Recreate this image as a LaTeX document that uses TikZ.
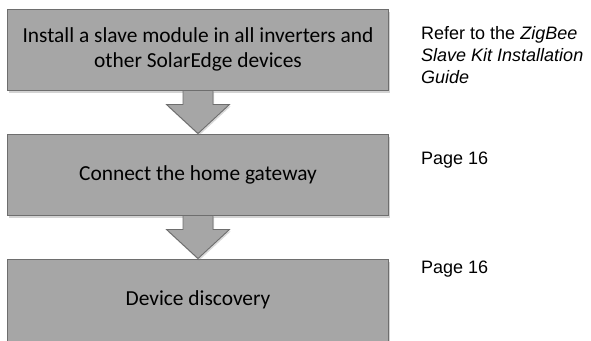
\documentclass[tikz,border=0pt]{standalone}
\usepackage{fontspec}
\setmainfont{Carlito}
\newfontfamily\notefont{Liberation Sans}
\usetikzlibrary{shadows,calc}
\definecolor{boxgray}{HTML}{A6A6A6}
\definecolor{edgegray}{HTML}{6E6E6E}
\tikzset{
  stepbox/.style={draw=edgegray, line width=0.9pt, fill=boxgray,
    minimum width=381pt, inner sep=0pt, align=center,
    font=\fontsize{21.4}{25.5}\selectfont,
    drop shadow={opacity=0.35, shadow xshift=1.5pt, shadow yshift=-2.5pt}},
  blockarrow/.style={draw=edgegray, line width=0.9pt, fill=boxgray, line join=miter,
    drop shadow={opacity=0.3, shadow xshift=1pt, shadow yshift=-2pt}},
  note/.style={anchor=base west, align=left, inner sep=0pt,
    font=\notefont\fontsize{18}{22}\selectfont}
}
\newcommand\blockarr[2]{%
  \path[blockarrow]
    ($(#1.south)+(-15pt,0pt)$) -- ($(#1.south)+(15pt,0pt)$)
    -- ($(#1.south)+(15pt,-14pt)$) -- ($(#1.south)+(31.5pt,-14pt)$)
    -- (#2.north)
    -- ($(#1.south)+(-31.5pt,-14pt)$) -- ($(#1.south)+(-15pt,-14pt)$) -- cycle;}
\begin{document}
\begin{tikzpicture}[x=1pt,y=-1pt]
\useasboundingbox (0,0) rectangle (591,340);
\node[stepbox, minimum height=81pt] (s1) at (198,49.5)
  {Install a slave module in all inverters and\\other SolarEdge devices};
\node[stepbox, minimum height=81pt] (s2) at (198,174.5) {Connect the home gateway};
\node[stepbox, minimum height=82pt] (s3) at (198,300) {Device discovery};
\blockarr{s1}{s2}
\blockarr{s2}{s3}
\node[note] (n1) at (421,83.5)
  {Refer to the \textit{ZigBee}\\\textit{Slave Kit Installation}\\\textit{Guide}};
\node[note] (n2) at (421,164) {Page 16};
\node[note] (n3) at (421,273.5) {Page 16};
\end{tikzpicture}
\end{document}
